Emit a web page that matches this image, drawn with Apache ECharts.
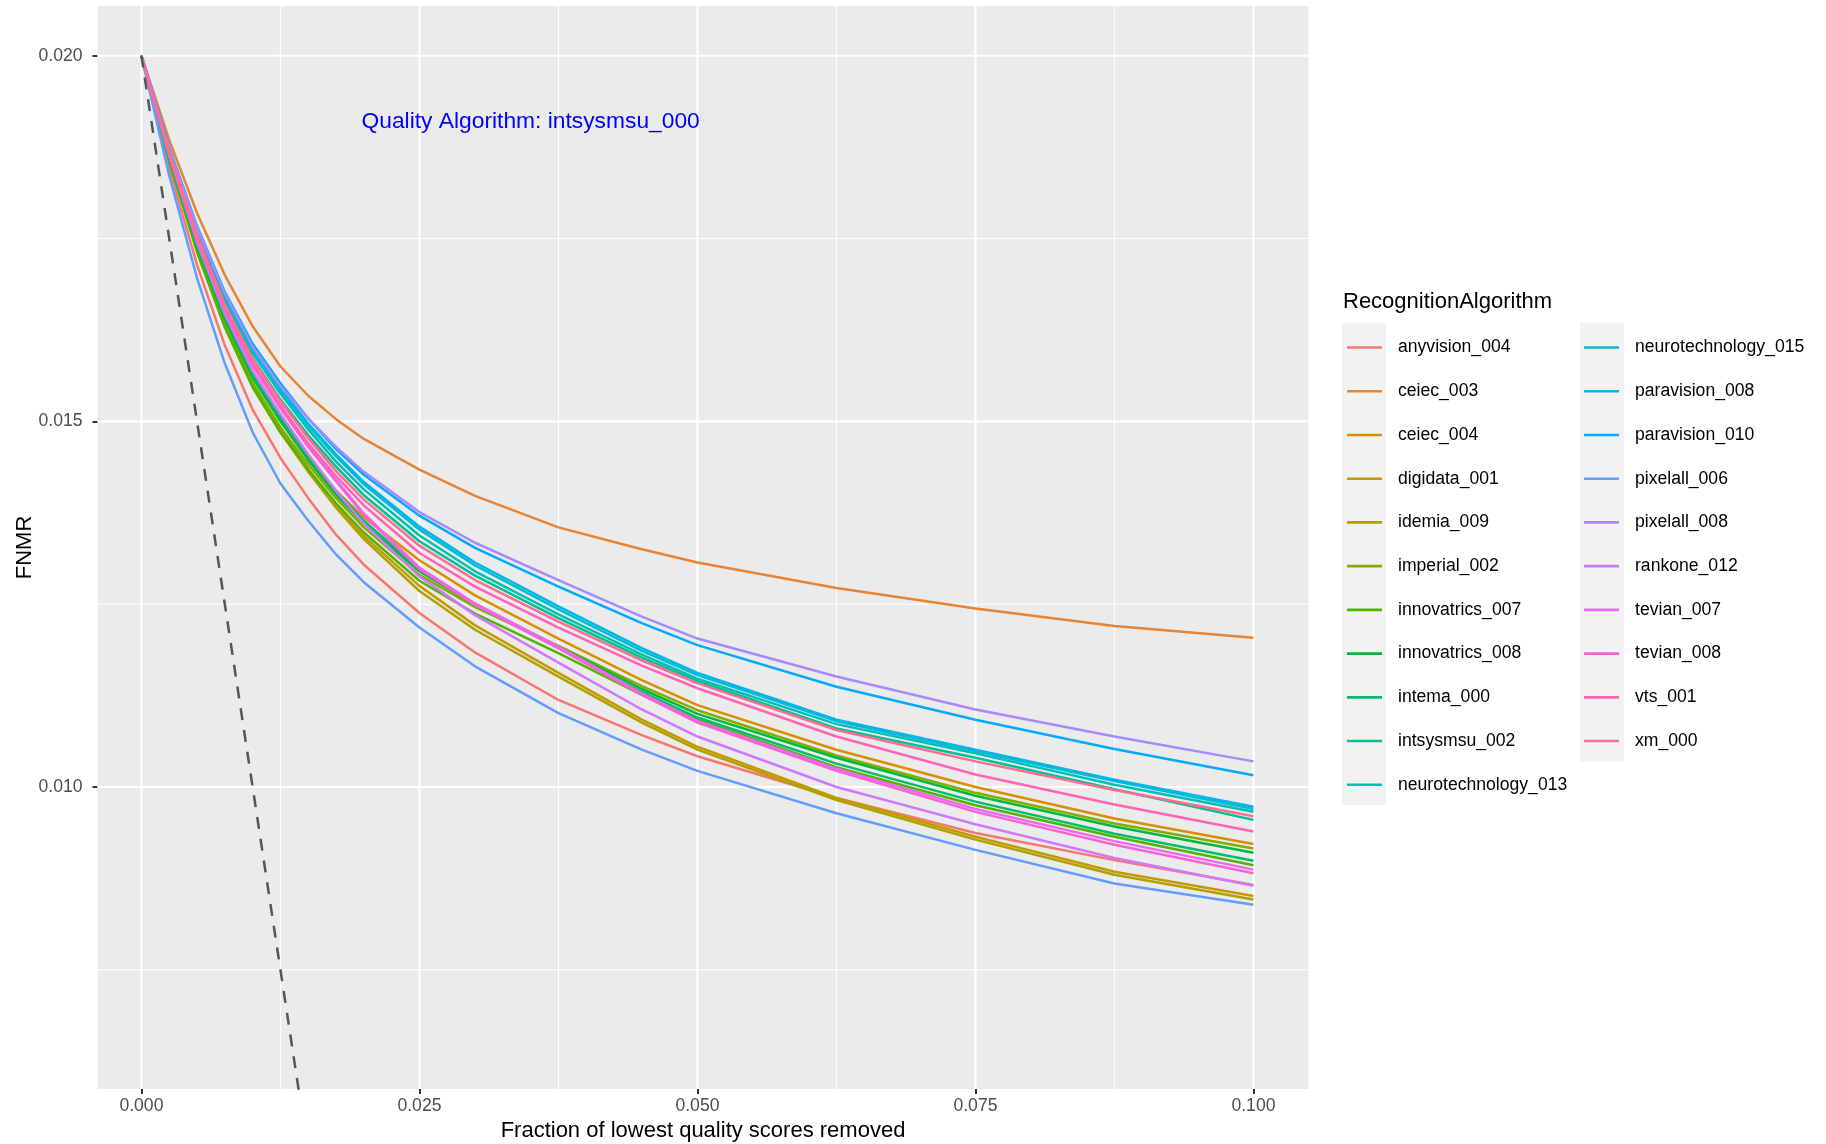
<!DOCTYPE html>
<html><head><meta charset="utf-8">
<script src="https://cdn.jsdelivr.net/npm/echarts@6/dist/echarts.min.js"></script>
<style>html,body{margin:0;padding:0;background:#fff}#chart{width:1826px;height:1144px}</style>
</head><body><div id="chart"></div>
<script>
// ---- data ----
const xFraction = [0, 0.0025, 0.005, 0.0075, 0.01, 0.0125, 0.015, 0.0175, 0.02, 0.025, 0.03, 0.0375, 0.045, 0.05, 0.0625, 0.075, 0.0875, 0.1];

const anyvision_004      = [0.0200, 0.01846, 0.01714, 0.01604, 0.01516, 0.01450, 0.01395, 0.01345, 0.01304, 0.01238, 0.01184, 0.01119, 0.01071, 0.01042, 0.00985, 0.00937, 0.00900, 0.00866];
const ceiec_003          = [0.0200, 0.01885, 0.01785, 0.01700, 0.01630, 0.01575, 0.01535, 0.01503, 0.01476, 0.01434, 0.01398, 0.01355, 0.01325, 0.01307, 0.01272, 0.01244, 0.01220, 0.01204];
const ceiec_004          = [0.0200, 0.01861, 0.01743, 0.01644, 0.01564, 0.01505, 0.01452, 0.01405, 0.01369, 0.01310, 0.01262, 0.01203, 0.01146, 0.01112, 0.01051, 0.01000, 0.00957, 0.00922];
const digidata_001       = [0.0200, 0.01857, 0.01735, 0.01633, 0.01551, 0.01490, 0.01435, 0.01385, 0.01343, 0.01275, 0.01221, 0.01156, 0.01092, 0.01055, 0.00985, 0.00932, 0.00884, 0.00851];
const idemia_009         = [0.0200, 0.01856, 0.01732, 0.01629, 0.01547, 0.01485, 0.01431, 0.01382, 0.01339, 0.01268, 0.01215, 0.01151, 0.01088, 0.01051, 0.00982, 0.00928, 0.00880, 0.00846];
const imperial_002       = [0.0200, 0.01858, 0.01736, 0.01634, 0.01553, 0.01492, 0.01441, 0.01395, 0.01355, 0.01290, 0.01246, 0.01193, 0.01138, 0.01105, 0.01043, 0.00992, 0.00950, 0.00916];
const innovatrics_007    = [0.0200, 0.01856, 0.01732, 0.01629, 0.01547, 0.01485, 0.01434, 0.01388, 0.01348, 0.01282, 0.01237, 0.01183, 0.01126, 0.01092, 0.01027, 0.00975, 0.00932, 0.00893];
const innovatrics_008    = [0.0200, 0.01860, 0.01740, 0.01640, 0.01560, 0.01500, 0.01447, 0.01400, 0.01360, 0.01295, 0.01249, 0.01192, 0.01134, 0.01100, 0.01040, 0.00988, 0.00946, 0.00910];
const intema_000         = [0.0200, 0.01861, 0.01743, 0.01644, 0.01564, 0.01505, 0.01452, 0.01405, 0.01364, 0.01298, 0.01249, 0.01190, 0.01130, 0.01095, 0.01032, 0.00980, 0.00936, 0.00899];
const intsysmsu_002      = [0.0200, 0.01868, 0.01756, 0.01662, 0.01586, 0.01530, 0.01481, 0.01438, 0.01399, 0.01336, 0.01289, 0.01231, 0.01177, 0.01145, 0.01080, 0.01040, 0.00997, 0.00955];
const neurotechnology_013= [0.0200, 0.01871, 0.01760, 0.01667, 0.01593, 0.01538, 0.01489, 0.01445, 0.01407, 0.01344, 0.01295, 0.01236, 0.01181, 0.01148, 0.01086, 0.01046, 0.01003, 0.00966];
const neurotechnology_015= [0.0200, 0.01872, 0.01762, 0.01670, 0.01597, 0.01542, 0.01494, 0.01452, 0.01414, 0.01352, 0.01303, 0.01243, 0.01186, 0.01153, 0.01090, 0.01049, 0.01008, 0.00970];
const paravision_008     = [0.0200, 0.01873, 0.01763, 0.01672, 0.01600, 0.01545, 0.01497, 0.01455, 0.01417, 0.01356, 0.01307, 0.01247, 0.01190, 0.01156, 0.01092, 0.01051, 0.01010, 0.00973];
const paravision_010     = [0.0200, 0.01875, 0.01767, 0.01677, 0.01606, 0.01552, 0.01504, 0.01462, 0.01427, 0.01371, 0.01327, 0.01274, 0.01224, 0.01194, 0.01137, 0.01092, 0.01052, 0.01016];
const pixelall_006       = [0.0200, 0.01836, 0.01696, 0.01579, 0.01485, 0.01415, 0.01364, 0.01318, 0.01280, 0.01218, 0.01165, 0.01101, 0.01051, 0.01022, 0.00964, 0.00914, 0.00868, 0.00839];
const pixelall_008       = [0.0200, 0.01873, 0.01765, 0.01675, 0.01602, 0.01548, 0.01504, 0.01465, 0.01431, 0.01376, 0.01334, 0.01283, 0.01233, 0.01203, 0.01151, 0.01106, 0.01069, 0.01035];
const rankone_012        = [0.0200, 0.01863, 0.01745, 0.01647, 0.01569, 0.01510, 0.01455, 0.01405, 0.01360, 0.01288, 0.01235, 0.01170, 0.01106, 0.01069, 0.01000, 0.00949, 0.00903, 0.00865];
const tevian_007         = [0.0200, 0.01866, 0.01751, 0.01656, 0.01579, 0.01522, 0.01468, 0.01420, 0.01374, 0.01300, 0.01251, 0.01192, 0.01128, 0.01090, 0.01025, 0.00970, 0.00926, 0.00887];
const tevian_008         = [0.0200, 0.01865, 0.01749, 0.01653, 0.01576, 0.01518, 0.01465, 0.01418, 0.01372, 0.01298, 0.01249, 0.01190, 0.01126, 0.01088, 0.01022, 0.00966, 0.00921, 0.00882];
const vts_001            = [0.0200, 0.01866, 0.01750, 0.01654, 0.01578, 0.01520, 0.01470, 0.01425, 0.01385, 0.01320, 0.01274, 0.01218, 0.01166, 0.01135, 0.01069, 0.01017, 0.00976, 0.00939];
const xm_000             = [0.0200, 0.01868, 0.01755, 0.01660, 0.01585, 0.01528, 0.01477, 0.01432, 0.01393, 0.01330, 0.01283, 0.01226, 0.01173, 0.01142, 0.01078, 0.01035, 0.00996, 0.00960];

const algorithmNames = ['anyvision_004','ceiec_003','ceiec_004','digidata_001','idemia_009','imperial_002',
  'innovatrics_007','innovatrics_008','intema_000','intsysmsu_002','neurotechnology_013','neurotechnology_015',
  'paravision_008','paravision_010','pixelall_006','pixelall_008','rankone_012','tevian_007','tevian_008','vts_001','xm_000'];
const algorithmValues = [anyvision_004, ceiec_003, ceiec_004, digidata_001, idemia_009, imperial_002,
  innovatrics_007, innovatrics_008, intema_000, intsysmsu_002, neurotechnology_013, neurotechnology_015,
  paravision_008, paravision_010, pixelall_006, pixelall_008, rankone_012, tevian_007, tevian_008, vts_001, xm_000];

// ideal rejection reference (dashed)
const idealX = [0, 0.02];
const idealY = [0.02, 0];

// axis limits and tick values
const xLimits = [-0.00395, 0.10495];
const yLimits = [0.00587, 0.02068];
const xMajorTicks = [0, 0.025, 0.05, 0.075, 0.1];
const xMinorTicks = [0.0125, 0.0375, 0.0625, 0.0875];
const yMajorTicks = [0.010, 0.015, 0.020];
const yMinorTicks = [0.0075, 0.0125, 0.0175];

const annotationText = 'Quality Algorithm: intsysmsu_000';
const annotationX = [0.035];
const annotationY = [0.0191];

// ---- styles ----
const palette = ['#F8766D','#EA8331','#DB8E00','#C49A00','#AEA200','#85AD00','#53B400','#00BA38','#00BE6C','#00C094',
  '#00C0B5','#00BDD2','#00B6EB','#00AAFE','#619CFF','#A58AFF','#CF78FF','#EB69F0','#FB61D7','#FF63B6','#FF6C90'];
const FONT = '"Liberation Sans", Arial, Helvetica, sans-serif';
const MAJOR_W = 2.1, MINOR_W = 1.05;

const chart = echarts.init(document.getElementById('chart'), null, {renderer: 'canvas'});

const series = [];
function gridSeries(points, width) {
  series.push({
    type: 'line', data: points, z: 1, silent: true, showSymbol: false, clip: true,
    lineStyle: {color: '#FFFFFF', width: width, type: 'solid'}, emphasis: {disabled: true}
  });
}
xMajorTicks.forEach(v => gridSeries([[v, yLimits[0]], [v, yLimits[1]]], MAJOR_W));
xMinorTicks.forEach(v => gridSeries([[v, yLimits[0]], [v, yLimits[1]]], MINOR_W));
yMajorTicks.forEach(v => gridSeries([[xLimits[0], v], [xLimits[1], v]], MAJOR_W));
yMinorTicks.forEach(v => gridSeries([[xLimits[0], v], [xLimits[1], v]], MINOR_W));

algorithmNames.forEach((name, i) => {
  series.push({
    type: 'line', name: name, z: 3, silent: true,
    data: xFraction.map((x, j) => [x, algorithmValues[i][j]]),
    showSymbol: false, smooth: false,
    lineStyle: {width: 2.5, color: palette[i], join: 'round'},
    itemStyle: {color: palette[i]},
    emphasis: {disabled: true}
  });
});

series.push({
  type: 'line', name: '__ideal', z: 4, silent: true,
  data: idealX.map((x, j) => [x, idealY[j]]),
  showSymbol: false, clip: true,
  lineStyle: {width: 2.5, color: '#555555', type: [12, 10]},
  emphasis: {disabled: true}
});

series.push({
  type: 'scatter', name: '__annotation', z: 5, silent: true,
  data: annotationX.map((x, j) => [x, annotationY[j]]),
  symbolSize: 1, itemStyle: {color: 'rgba(0,0,0,0)'},
  label: {show: true, position: 'inside', formatter: annotationText, color: '#0000FF', opacity: 1, fontSize: 22.8, fontFamily: FONT},
  emphasis: {disabled: true}
});

const legendCommon = {
  orient: 'vertical', padding: 0, itemWidth: 35, itemHeight: 2.6, itemGap: 23.73, icon: 'rect',
  selectedMode: false,
  textStyle: {fontSize: 17.6, lineHeight: 20, color: '#000000', fontFamily: FONT, padding: [0, 0, 0, 11]}
};

const hiddenAxisLine = {show: true, onZero: false, lineStyle: {color: 'rgba(0,0,0,0)', width: 0.5}};

const option = {
  animation: false,
  backgroundColor: '#FFFFFF',
  textStyle: {fontFamily: FONT},
  title: {
    text: 'RecognitionAlgorithm', left: 1343, top: 290, padding: 0,
    textStyle: {fontSize: 22, fontWeight: 'normal', color: '#000000', fontFamily: FONT, lineHeight: 24}
  },
  grid: {
    left: 97.5, top: 6, width: 1211, height: 1083,
    show: true, backgroundColor: '#EBEBEB', borderWidth: 0,
    containLabel: false, outerBoundsMode: 'none'
  },
  xAxis: {
    type: 'value', min: xLimits[0], max: xLimits[1],
    axisLine: hiddenAxisLine,
    axisTick: {show: true, inside: false, length: 5, lineStyle: {color: '#333333', width: 2}, customValues: xMajorTicks},
    axisLabel: {customValues: xMajorTicks, formatter: v => v.toFixed(3), color: '#4D4D4D', fontSize: 17.6, margin: 8, fontFamily: FONT},
    splitLine: {show: false}, minorSplitLine: {show: false},
    name: 'Fraction of lowest quality scores removed', nameLocation: 'middle', nameGap: 30,
    nameTextStyle: {fontSize: 22, color: '#000000', fontFamily: FONT}
  },
  yAxis: {
    type: 'value', min: yLimits[0], max: yLimits[1],
    axisLine: hiddenAxisLine,
    axisTick: {show: true, inside: false, length: 5, lineStyle: {color: '#333333', width: 2}, customValues: yMajorTicks},
    axisLabel: {customValues: yMajorTicks, formatter: v => v.toFixed(3), color: '#4D4D4D', fontSize: 17.6, margin: 15, fontFamily: FONT},
    splitLine: {show: false}, minorSplitLine: {show: false},
    name: 'FNMR', nameLocation: 'middle', nameGap: 62, nameRotate: 90, nameMoveOverlap: false,
    nameTextStyle: {fontSize: 22, color: '#000000', fontFamily: FONT}
  },
  legend: [
    Object.assign({}, legendCommon, {left: 1347, top: 337.5, data: algorithmNames.slice(0, 11)}),
    Object.assign({}, legendCommon, {left: 1584, top: 337.5, data: algorithmNames.slice(11)})
  ],
  graphic: [
    {type: 'rect', left: 1342, top: 322.7, z: -1, shape: {width: 44, height: 482.3}, style: {fill: '#F2F2F2'}},
    {type: 'rect', left: 1580, top: 322.7, z: -1, shape: {width: 44, height: 438.5}, style: {fill: '#F2F2F2'}}
  ],
  series: series
};
chart.setOption(option);
</script></body></html>
